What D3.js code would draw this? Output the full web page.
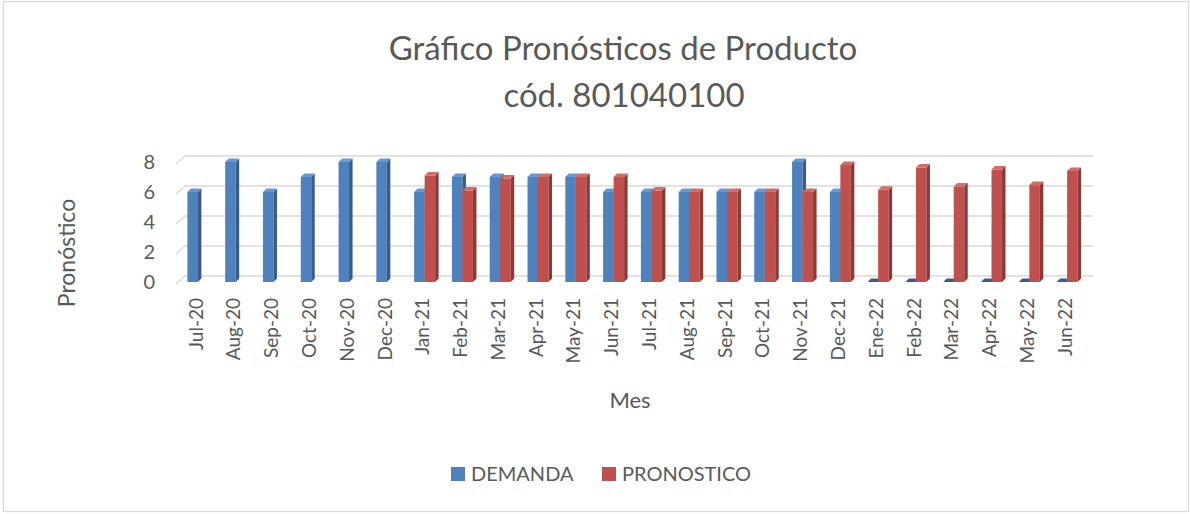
<!DOCTYPE html>
<html>
<head>
<meta charset="utf-8">
<script src="https://cdn.jsdelivr.net/npm/d3@7"></script>
<style>
  body { margin: 0; background: #fff; }
  svg text { font-family: Lato, "Open Sans", sans-serif; fill: #595959; }
</style>
</head>
<body>
<svg id="chart" width="1190" height="514"></svg>
<script>
// data
const months = ["Jul-20", "Aug-20", "Sep-20", "Oct-20", "Nov-20", "Dec-20",
  "Jan-21", "Feb-21", "Mar-21", "Apr-21", "May-21", "Jun-21",
  "Jul-21", "Aug-21", "Sep-21", "Oct-21", "Nov-21", "Dec-21",
  "Ene-22", "Feb-22", "Mar-22", "Apr-22", "May-22", "Jun-22"]
const demanda = [6, 8, 6, 7, 8, 8, 6, 7, 7, 7, 7, 6, 6, 6, 6, 6, 8, 6, 0, 0, 0, 0, 0, 0]
const pronostico = [null, null, null, null, null, null,
  7.1, 6.1, 6.9, 7, 7, 7, 6.1, 6, 6, 6, 6, 7.8, 6.15, 7.63, 6.37, 7.5, 6.46, 7.4]
const yTicks = [0, 2, 4, 6, 8]
const seriesNames = ["DEMANDA", "PRONOSTICO"]

const BAR_W = 10.5
const DEPTH = 3.5
const BACK = 6   // gridlines sit on the back wall
const colors = {
  DEMANDA: { front: "#4F81BD", side: "#385D8A", top: "#6B97CE" },
  PRONOSTICO: { front: "#C0504D", side: "#8C3A38", top: "#D06C69" }
}

var svg = d3.select("#chart")

// outer frame
svg.append("rect")
  .attr("x", 3.5).attr("y", 1.5)
  .attr("width", 1185).attr("height", 510)
  .attr("fill", "white").attr("stroke", "#D9D9D9").attr("stroke-width", 1.3)

// title
svg.append("text")
  .attr("x", 623).attr("y", 60)
  .attr("text-anchor", "middle")
  .attr("font-size", 33)
  .text("Gráfico Pronósticos de Producto")
svg.append("text")
  .attr("x", 624).attr("y", 107)
  .attr("text-anchor", "middle")
  .attr("font-size", 33)
  .text("cód. 801040100")

var x = d3.scaleBand().domain(months).range([179, 1086])
var y = d3.scaleLinear().domain([0, 8]).range([282, 162])

// gridlines with little slanted floor edge on the left
var grid = svg.append("g")
yTicks.forEach(t => {
  var yb = y(t) - BACK
  grid.append("polyline")
    .attr("points", [[176, yb + 8], [185, yb], [1093, yb]].map(p => p.join(",")).join(" "))
    .attr("fill", "none")
    .attr("stroke", "#D9D9D9")
    .attr("stroke-width", 1.3)
})

// y tick labels
svg.append("g").selectAll("text").data(yTicks).enter().append("text")
  .attr("x", 155)
  .attr("y", d => y(d))
  .attr("dy", "0.35em")
  .attr("text-anchor", "end")
  .attr("font-size", 20)
  .text(d => d)

// 3D-ish columns
var bars = svg.append("g")
function drawSeries(vals, key, offset) {
  var c = colors[key]
  vals.forEach((v, i) => {
    if (v === null) return
    var x0 = x(months[i]) + x.bandwidth() / 2 + offset
    var x1 = x0 + BAR_W
    var yt = y(v), yb = y(0)
    var g = bars.append("g")
    if (v > 0) {
      g.append("rect")
        .attr("x", x0).attr("y", yt)
        .attr("width", BAR_W).attr("height", yb - yt)
        .attr("fill", c.front)
      g.append("polygon")
        .attr("points", [[x1, yt], [x1 + DEPTH, yt - DEPTH], [x1 + DEPTH, yb - DEPTH], [x1, yb]].join(" "))
        .attr("fill", c.side)
    }
    g.append("polygon")
      .attr("points", [[x0, yt], [x0 + DEPTH, yt - DEPTH], [x1 + DEPTH, yt - DEPTH], [x1, yt]].join(" "))
      .attr("fill", v > 0 ? c.top : c.side)
  })
}
drawSeries(demanda, "DEMANDA", -BAR_W)
drawSeries(pronostico, "PRONOSTICO", 0)

// x labels, rotated
svg.append("g").selectAll("text").data(months).enter().append("text")
  .attr("transform", d => "translate(" + (x(d) + x.bandwidth() / 2 - 2) + ",298) rotate(-90)")
  .attr("dy", "0.35em")
  .attr("text-anchor", "end")
  .attr("font-size", 19)
  .text(d => d)

// axis titles
svg.append("text")
  .attr("x", 630).attr("y", 408)
  .attr("text-anchor", "middle")
  .attr("font-size", 22)
  .text("Mes")
svg.append("text")
  .attr("transform", "translate(75,253) rotate(-90)")
  .attr("text-anchor", "middle")
  .attr("font-size", 23)
  .text("Pronóstico")

// legend
var legend = svg.append("g").selectAll("g").data(seriesNames).enter().append("g")
  .attr("transform", (d, i) => "translate(" + (451 + i * 151) + ",467)")
legend.append("rect")
  .attr("width", 14).attr("height", 14)
  .attr("fill", d => colors[d].front)
legend.append("text")
  .attr("x", 20).attr("y", 7)
  .attr("dy", "0.35em")
  .attr("font-size", 20)
  .text(d => d)
</script>
</body>
</html>
